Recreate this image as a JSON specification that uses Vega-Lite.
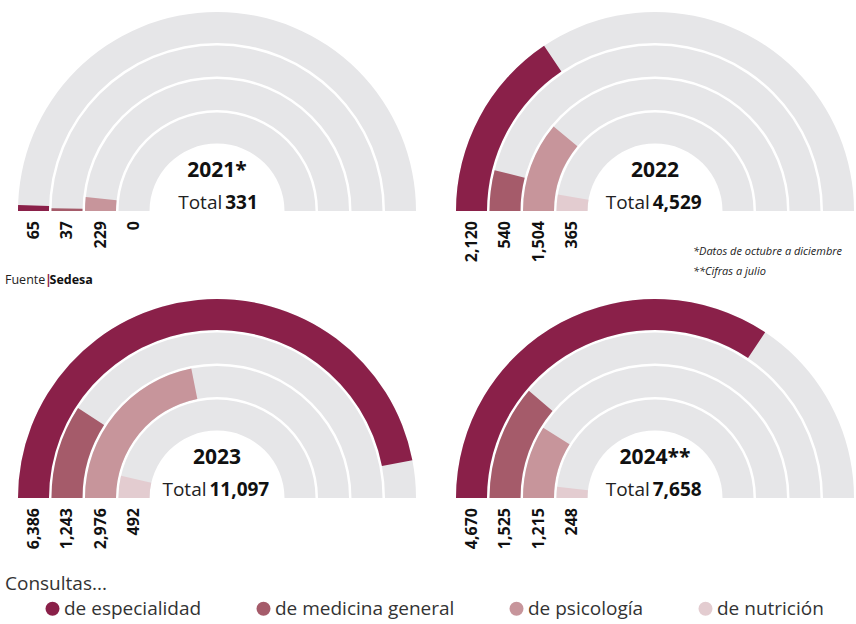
{
  "$schema": "https://vega.github.io/schema/vega-lite/v6.json",
  "padding": {"left": 0, "top": 0, "right": 0, "bottom": 6},
  "background": "white",
  "data": {
    "values": [
      {"year": "2021*", "cat": "de especialidad", "value": 65, "total": 331},
      {"year": "2021*", "cat": "de medicina general", "value": 37, "total": 331},
      {"year": "2021*", "cat": "de psicología", "value": 229, "total": 331},
      {"year": "2021*", "cat": "de nutrición", "value": 0, "total": 331},
      {"year": "2022", "cat": "de especialidad", "value": 2120, "total": 4529},
      {"year": "2022", "cat": "de medicina general", "value": 540, "total": 4529},
      {"year": "2022", "cat": "de psicología", "value": 1504, "total": 4529},
      {"year": "2022", "cat": "de nutrición", "value": 365, "total": 4529},
      {"year": "2023", "cat": "de especialidad", "value": 6386, "total": 11097},
      {"year": "2023", "cat": "de medicina general", "value": 1243, "total": 11097},
      {"year": "2023", "cat": "de psicología", "value": 2976, "total": 11097},
      {"year": "2023", "cat": "de nutrición", "value": 492, "total": 11097},
      {"year": "2024**", "cat": "de especialidad", "value": 4670, "total": 7658},
      {"year": "2024**", "cat": "de medicina general", "value": 1525, "total": 7658},
      {"year": "2024**", "cat": "de psicología", "value": 1215, "total": 7658},
      {"year": "2024**", "cat": "de nutrición", "value": 248, "total": 7658}
    ]
  },
  "facet": {
    "field": "year",
    "type": "nominal",
    "sort": ["2021*", "2022", "2023", "2024**"],
    "title": null,
    "header": {"labels": false, "title": null, "labelFontSize": 0, "labelPadding": 0, "labelExpr": "''"}
  },
  "columns": 2,
  "spacing": {"row": 0, "column": 20},
  "spec": {
    "width": 418,
    "height": 286,
    "layer": [
      {"transform": [{"filter": "datum.cat === 'de especialidad'"}],
       "mark": {"type": "arc", "x": 217, "y": 211, "radius": 199, "radius2": 168, "theta": -1.5707963, "theta2": 1.5707963, "fill": "#e6e6e8"},
       "encoding": {}},
      {"transform": [{"filter": "datum.cat === 'de medicina general'"}],
       "mark": {"type": "arc", "x": 217, "y": 211, "radius": 165.5, "radius2": 134.5, "theta": -1.5707963, "theta2": 1.5707963, "fill": "#e6e6e8"},
       "encoding": {}},
      {"transform": [{"filter": "datum.cat === 'de psicología'"}],
       "mark": {"type": "arc", "x": 217, "y": 211, "radius": 132, "radius2": 101, "theta": -1.5707963, "theta2": 1.5707963, "fill": "#e6e6e8"},
       "encoding": {}},
      {"transform": [{"filter": "datum.cat === 'de nutrición'"}],
       "mark": {"type": "arc", "x": 217, "y": 211, "radius": 98.5, "radius2": 67.5, "theta": -1.5707963, "theta2": 1.5707963, "fill": "#e6e6e8"},
       "encoding": {}},
      {"transform": [{"filter": "datum.cat === 'de especialidad'"}],
       "mark": {"type": "arc", "x": 217, "y": 211, "radius": 199, "radius2": 168},
       "encoding": {
         "theta": {"field": "value", "type": "quantitative", "stack": null, "scale": {"domain": [0, 6800], "range": [-1.5707963, 1.5707963]}},
         "theta2": {"datum": 0},
         "color": {"field": "cat", "type": "nominal",
           "scale": {"domain": ["de especialidad", "de medicina general", "de psicología", "de nutrición"], "range": ["#8a2049", "#a55b6a", "#c7959b", "#e3ccd0"]},
           "legend": {"title": "Consultas...", "orient": "none", "legendX": 5, "legendY": 575, "direction": "horizontal", "columns": 4, "gridAlign": "each",
             "titleFont": "Open Sans", "titleFontSize": 19, "titleFontWeight": "normal", "titleColor": "#333333", "titlePadding": 5,
             "labelFont": "Open Sans", "labelFontSize": 19, "labelColor": "#333333", "labelLimit": 400,
             "symbolType": "circle", "symbolSize": 196, "symbolStrokeWidth": 0, "symbolOffset": 38, "labelOffset": 2, "columnPadding": 14}}
       }},
      {"transform": [{"filter": "datum.cat === 'de medicina general'"}],
       "mark": {"type": "arc", "x": 217, "y": 211, "radius": 165.5, "radius2": 134.5},
       "encoding": {
         "theta": {"field": "value", "type": "quantitative", "stack": null},
         "theta2": {"datum": 0},
         "color": {"field": "cat", "type": "nominal"}
       }},
      {"transform": [{"filter": "datum.cat === 'de psicología'"}],
       "mark": {"type": "arc", "x": 217, "y": 211, "radius": 132, "radius2": 101},
       "encoding": {
         "theta": {"field": "value", "type": "quantitative", "stack": null},
         "theta2": {"datum": 0},
         "color": {"field": "cat", "type": "nominal"}
       }},
      {"transform": [{"filter": "datum.cat === 'de nutrición'"}],
       "mark": {"type": "arc", "x": 217, "y": 211, "radius": 98.5, "radius2": 67.5},
       "encoding": {
         "theta": {"field": "value", "type": "quantitative", "stack": null},
         "theta2": {"datum": 0},
         "color": {"field": "cat", "type": "nominal"}
       }},
      {"mark": {"type": "text", "y": 211, "angle": 270, "align": "right", "baseline": "middle", "dx": -10, "font": "Open Sans", "fontSize": 16, "fontWeight": "bold", "fill": "#111111"},
       "encoding": {
         "x": {"field": "cat", "type": "nominal", "scale": {"type": "point", "domain": ["de especialidad", "de medicina general", "de psicología", "de nutrición"], "range": [33.5, 134], "padding": 0}, "axis": null},
         "text": {"field": "value", "type": "quantitative", "format": ",d"}
       }},
      {"transform": [{"filter": "datum.cat === 'de especialidad'"}],
       "mark": {"type": "text", "x": 217, "y": 177, "align": "center", "baseline": "alphabetic", "font": "Open Sans", "fontSize": 21, "fontWeight": "bold", "fill": "#111111"},
       "encoding": {"text": {"field": "year", "type": "nominal"}}},
      {"transform": [{"filter": "datum.cat === 'de especialidad'"}],
       "mark": {"type": "text", "x": 216, "y": 209, "align": "right", "baseline": "alphabetic", "font": "Open Sans", "fontSize": 19, "fill": "#222222", "dx": {"expr": "(44 - 10.5*length(format(datum.total, ',d')))/2"}},
       "encoding": {"text": {"value": "Total"}}},
      {"transform": [{"filter": "datum.cat === 'de especialidad'"}],
       "mark": {"type": "text", "x": 219, "y": 209, "align": "left", "baseline": "alphabetic", "font": "Open Sans", "fontSize": 19, "fontWeight": "bold", "fill": "#111111", "dx": {"expr": "(44 - 10.5*length(format(datum.total, ',d')))/2"}},
       "encoding": {"text": {"field": "total", "type": "quantitative", "format": ",d"}}},
      {"transform": [{"filter": "datum.cat === 'de especialidad' && datum.year === '2021*'"}],
       "mark": {"type": "text", "x": 5, "y": 284, "align": "left", "baseline": "alphabetic", "font": "Open Sans", "fontSize": 12.5, "fill": "#222222"},
       "encoding": {"text": {"value": "Fuente"}}},
      {"transform": [{"filter": "datum.cat === 'de especialidad' && datum.year === '2021*'"}],
       "mark": {"type": "text", "x": 45, "y": 284, "align": "left", "baseline": "alphabetic", "font": "Open Sans", "fontSize": 12.5, "fontWeight": "bold", "fill": "#8a2049"},
       "encoding": {"text": {"value": "|"}}},
      {"transform": [{"filter": "datum.cat === 'de especialidad' && datum.year === '2021*'"}],
       "mark": {"type": "text", "x": 49.5, "y": 284, "align": "left", "baseline": "alphabetic", "font": "Open Sans", "fontSize": 12.5, "fontWeight": "bold", "fill": "#111111"},
       "encoding": {"text": {"value": "Sedesa"}}},
      {"transform": [{"filter": "datum.cat === 'de especialidad' && datum.year === '2022'"}],
       "mark": {"type": "text", "x": 255, "y": 255, "align": "left", "baseline": "alphabetic", "font": "Open Sans", "fontSize": 11, "fontStyle": "italic", "fill": "#222222"},
       "encoding": {"text": {"value": "*Datos de octubre a diciembre"}}},
      {"transform": [{"filter": "datum.cat === 'de especialidad' && datum.year === '2022'"}],
       "mark": {"type": "text", "x": 255, "y": 275, "align": "left", "baseline": "alphabetic", "font": "Open Sans", "fontSize": 11, "fontStyle": "italic", "fill": "#222222"},
       "encoding": {"text": {"value": "**Cifras a julio"}}}
    ]
  },
  "config": {
    "view": {"stroke": null},
    "font": "Open Sans",
    "header": {"labels": false, "title": null, "labelFontSize": 0, "labelPadding": 0},
    "headerFacet": {"labels": false, "title": null, "labelFontSize": 0, "labelPadding": 0}
  }
}
